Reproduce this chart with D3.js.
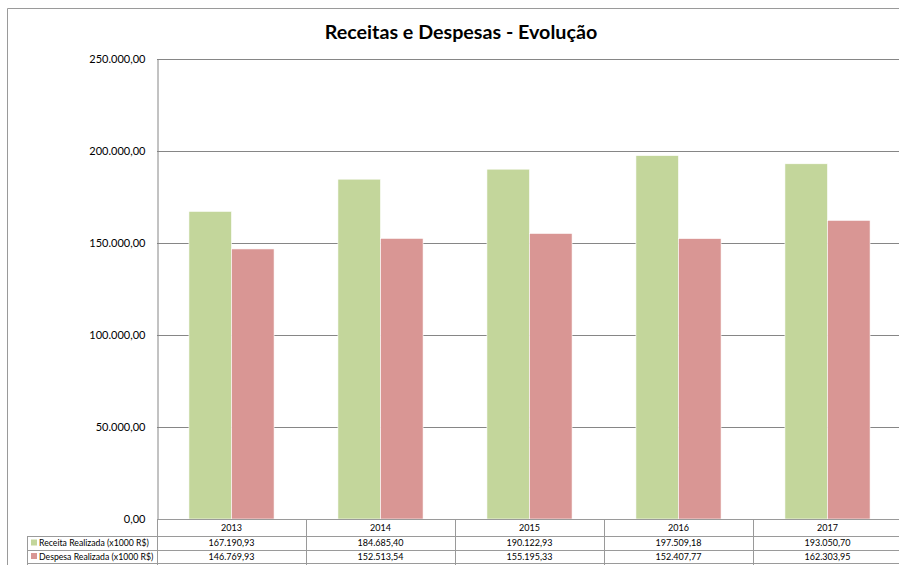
<!DOCTYPE html>
<html>
<head>
<meta charset="utf-8">
<script src="https://cdn.jsdelivr.net/npm/d3@7"></script>
<style>
  body { margin: 0; background: #fff; }
  svg { display: block; font-family: Lato, "Open Sans", sans-serif; }
</style>
</head>
<body>
<svg id="chart" width="899" height="565"></svg>
<script>
var years = ["2013", "2014", "2015", "2016", "2017"];
var seriesNames = ["Receita Realizada (x1000 R$)", "Despesa Realizada (x1000 R$)"];
var receita = [167190.93, 184685.40, 190122.93, 197509.18, 193050.70];
var despesa = [146769.93, 152513.54, 155195.33, 152407.77, 162303.95];
var yTicks = [0, 50000, 100000, 150000, 200000, 250000];
var colors = ["#c3d69b", "#d99694"];

var svg = d3.select("#chart");
var plotLeft = 157, plotRight = 902, plotTop = 59, plotBottom = 519;

var fmt = d3.formatLocale({decimal: ",", thousands: ".", grouping: [3], currency: ["R$", ""]}).format(",.2f");

// outer frame (cut off on the right and bottom like the original)
svg.append("path")
  .attr("d", "M7.5,565 V8.5 H899")
  .attr("fill", "none").attr("stroke", "#9a9a9a").attr("stroke-width", 1);

svg.append("text")
  .attr("x", 461).attr("y", 39)
  .attr("text-anchor", "middle")
  .attr("font-size", 19.7).attr("font-weight", "bold")
  .attr("fill", "#000")
  .text("Receitas e Despesas - Evolução");

var y = d3.scaleLinear().domain([0, 250000]).range([plotBottom, plotTop]);
var x0 = d3.scaleBand().domain(years).range([plotLeft, plotRight]).padding(0);
var x1 = d3.scaleBand().domain([0, 1]).range([0, x0.bandwidth()]).paddingInner(0).paddingOuter(0.75);

// gridlines
svg.append("g").selectAll("line").data(yTicks).enter().append("line")
  .attr("x1", plotLeft).attr("x2", plotRight)
  .attr("y1", function(d) { return Math.round(y(d)) + 0.5; })
  .attr("y2", function(d) { return Math.round(y(d)) + 0.5; })
  .attr("stroke", "#868686").attr("stroke-width", 1);

// y axis
var yAxis = svg.append("g")
  .attr("transform", "translate(" + (plotLeft + 0.5) + ",0)")
  .call(d3.axisLeft(y).tickValues(yTicks).tickFormat(fmt).tickSize(0).tickPadding(12));
yAxis.select(".domain").attr("stroke", "#868686");
yAxis.selectAll("text").attr("font-size", 11).attr("fill", "#000")
  .attr("font-family", "Lato, sans-serif");

// bars
var data = years.map(function(yr, i) { return {year: yr, values: [receita[i], despesa[i]]}; });
var groups = svg.append("g").selectAll("g").data(data).enter().append("g")
  .attr("transform", function(d) { return "translate(" + x0(d.year) + ",0)"; });
groups.selectAll("rect").data(function(d) { return d.values.map(function(v, k) { return {k: k, v: v}; }); })
  .enter().append("rect")
  .attr("x", function(d) { return x1(d.k); })
  .attr("width", x1.bandwidth())
  .attr("y", function(d) { return y(d.v); })
  .attr("height", function(d) { return plotBottom - y(d.v); })
  .attr("fill", function(d) { return colors[d.k]; })
  .attr("stroke", "#fff").attr("stroke-width", 0.6);

// data table
var rowY = [519, 536, 549.5, 563];
var table = svg.append("g").attr("stroke", "#9a9a9a").attr("stroke-width", 1);
rowY.forEach(function(ry, i) {
  table.append("line")
    .attr("x1", i === 0 ? plotLeft : 27).attr("x2", 899)
    .attr("y1", Math.round(ry) + 0.5).attr("y2", Math.round(ry) + 0.5);
});
table.append("line").attr("x1", 27.5).attr("x2", 27.5).attr("y1", 536).attr("y2", 565);
years.forEach(function(yr) {
  var xx = Math.round(x0(yr)) + 0.5;
  table.append("line").attr("x1", xx).attr("x2", xx).attr("y1", 519).attr("y2", 565);
});

var tt = svg.append("g").attr("font-size", 9).attr("fill", "#000").attr("text-anchor", "middle");
years.forEach(function(yr, i) {
  var cx = x0(yr) + x0.bandwidth() / 2;
  tt.append("text").attr("x", cx).attr("y", 531).text(yr);
  tt.append("text").attr("x", cx).attr("y", 546).text(fmt(receita[i]));
  tt.append("text").attr("x", cx).attr("y", 560).text(fmt(despesa[i]));
});

seriesNames.forEach(function(name, k) {
  var ry = k === 0 ? 536 : 549.5;
  svg.append("rect").attr("x", 31).attr("y", ry + 3.5).attr("width", 6).attr("height", 6).attr("fill", colors[k]);
  svg.append("text").attr("x", 39).attr("y", ry + 10).attr("font-size", 8.7).attr("fill", "#000").text(name);
});
</script>
</body>
</html>
